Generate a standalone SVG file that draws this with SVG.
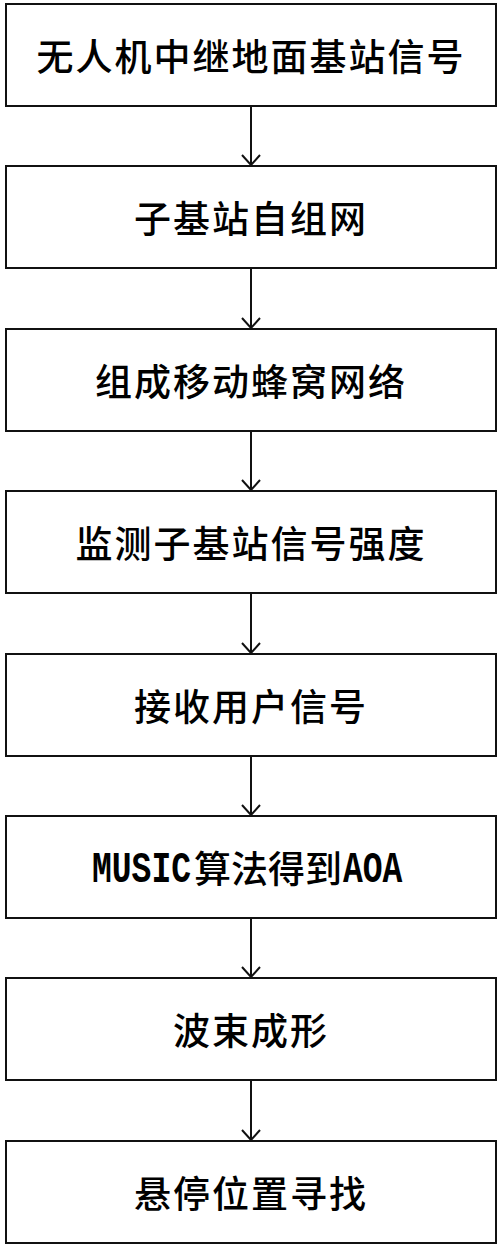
<svg xmlns="http://www.w3.org/2000/svg" width="500" height="1247" viewBox="0 0 500 1247">
<defs>
<style>
.box{fill:#fff;stroke:#111;stroke-width:2}
.t{font-family:"Noto Sans CJK SC","Noto Sans CJK JP",sans-serif;font-size:37px;font-weight:500;fill:#000;text-anchor:middle;dominant-baseline:central;letter-spacing:2px}
.m{font-family:"Liberation Mono","DejaVu Sans Mono",monospace;font-size:44px;font-weight:bold;fill:#000}
.c{stroke:#111;stroke-width:2;fill:none}
</style>
<marker id="ah" viewBox="0 0 12 20" refX="11" refY="10" markerWidth="12" markerHeight="20" markerUnits="userSpaceOnUse" orient="auto">
<path d="M1,1 L11,10 L1,19" fill="none" stroke="#111" stroke-width="2"/>
</marker>
</defs>
<rect width="500" height="1247" fill="#fff"/>
<g id="connectors">
<line class="c" x1="251" y1="106" x2="251" y2="165" marker-end="url(#ah)"/>
<line class="c" x1="251" y1="268" x2="251" y2="328" marker-end="url(#ah)"/>
<line class="c" x1="251" y1="431" x2="251" y2="490" marker-end="url(#ah)"/>
<line class="c" x1="251" y1="593" x2="251" y2="653" marker-end="url(#ah)"/>
<line class="c" x1="251" y1="756" x2="251" y2="815" marker-end="url(#ah)"/>
<line class="c" x1="251" y1="918" x2="251" y2="977" marker-end="url(#ah)"/>
<line class="c" x1="251" y1="1080" x2="251" y2="1140" marker-end="url(#ah)"/>
</g>
<g id="n1"><rect class="box" x="6" y="4" width="490" height="102"/><text class="t" x="251" y="55">无人机中继地面基站信号</text></g>
<g id="n2"><rect class="box" x="6" y="166" width="490" height="102"/><text class="t" x="251" y="217">子基站自组网</text></g>
<g id="n3"><rect class="box" x="6" y="329" width="490" height="102"/><text class="t" x="251" y="380">组成移动蜂窝网络</text></g>
<g id="n4"><rect class="box" x="6" y="491" width="490" height="102"/><text class="t" x="251" y="542">监测子基站信号强度</text></g>
<g id="n5"><rect class="box" x="6" y="654" width="490" height="102"/><text class="t" x="251" y="705">接收用户信号</text></g>
<g id="n6"><rect class="box" x="6" y="816" width="490" height="102"/>
<text class="m" transform="translate(92,882) scale(0.75,1)">MUSIC</text>
<text class="t" x="268" y="867" style="letter-spacing:0">算法得到</text>
<text class="m" transform="translate(343,882) scale(0.75,1)">AOA</text></g>
<g id="n7"><rect class="box" x="6" y="978" width="490" height="102"/><text class="t" x="251" y="1029">波束成形</text></g>
<g id="n8"><rect class="box" x="6" y="1141" width="490" height="102"/><text class="t" x="251" y="1192">悬停位置寻找</text></g>
</svg>
